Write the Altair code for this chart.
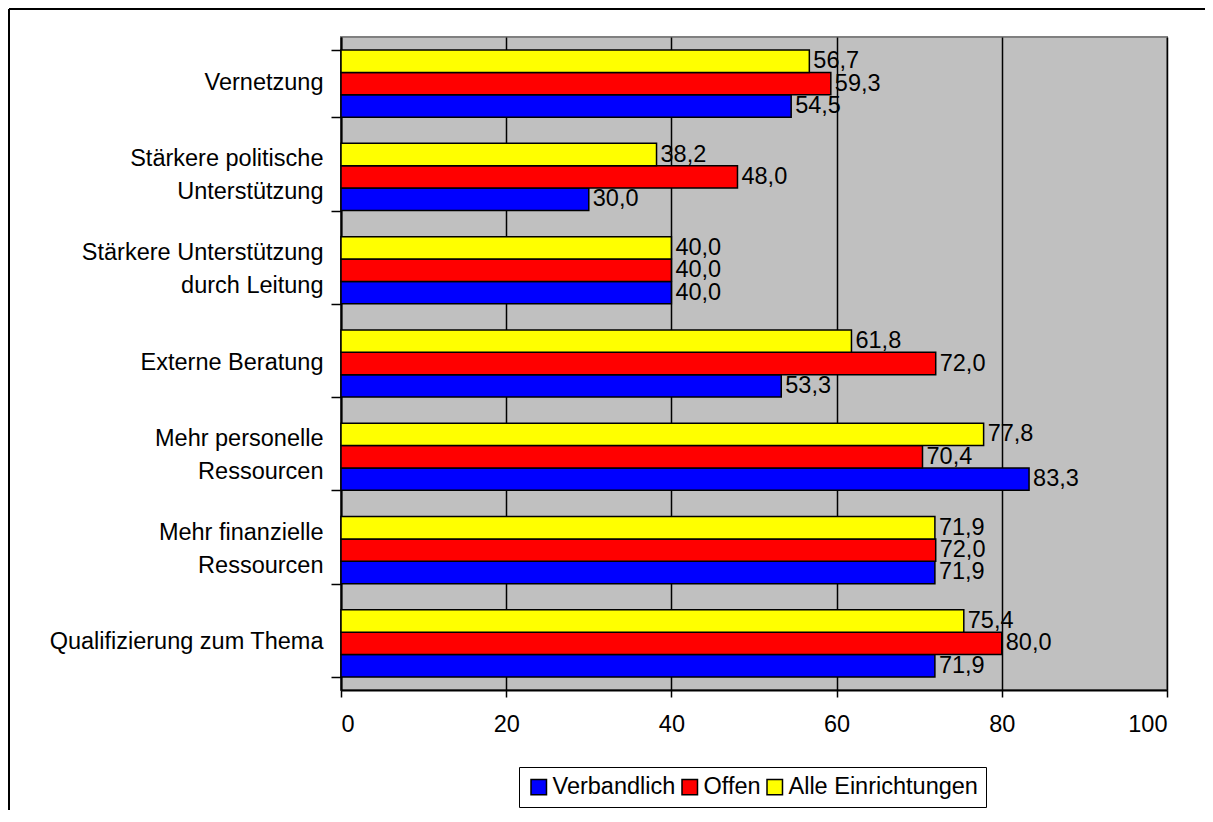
import altair as alt
import pandas as pd

categories = [
    "Vernetzung",
    "Stärkere politische\nUnterstützung",
    "Stärkere Unterstützung\ndurch Leitung",
    "Externe Beratung",
    "Mehr personelle\nRessourcen",
    "Mehr finanzielle\nRessourcen",
    "Qualifizierung zum Thema",
]
series_names = ["Verbandlich", "Offen", "Alle Einrichtungen"]
verbandlich = [54.5, 30.0, 40.0, 53.3, 83.3, 71.9, 71.9]
offen = [59.3, 48.0, 40.0, 72.0, 70.4, 72.0, 80.0]
alle = [56.7, 38.2, 40.0, 61.8, 77.8, 71.9, 75.4]
x_ticks = [0, 20, 40, 60, 80, 100]

rows = []
for name, vals in zip(series_names, [verbandlich, offen, alle]):
    for c, v in zip(categories, vals):
        rows.append({"cat": c, "series": name, "value": v})
df = pd.DataFrame(rows)

FONT = "Liberation Sans"
FS = 23.5

# Two-line labels are laid out as [line1, blank, line2], single-line ones as
# [blank, label], so that with a half line height every label block is centred.
# The blank line holds a zero-width space (not trimmed) so the browser keeps it.
BL = "\u200b"
label_expr = (
    "indexof(datum.label, '\\n') >= 0 ? "
    "[split(datum.label, '\\n')[0], '" + BL + "', split(datum.label, '\\n')[1]] : "
    "['" + BL + "', datum.label]"
)

y_enc = alt.Y(
    "cat:N",
    sort=categories,
    scale=alt.Scale(paddingInner=0.28, paddingOuter=0.14),
    axis=alt.Axis(
        title=None,
        tickBand="extent",
        tickSize=10,
        tickColor="black",
        tickWidth=1.5,
        domainColor="black",
        domainWidth=2,
        labelFont=FONT,
        labelFontSize=FS,
        labelColor="black",
        labelLineHeight=16.5,
        labelOffset=-18,
        labelLimit=0,
        labelAlign="right",
        labelPadding=8,
        labelExpr=label_expr,
        grid=False,
    ),
)
yoff = alt.YOffset("series:N", sort=["Alle Einrichtungen", "Offen", "Verbandlich"])

x_enc = alt.X(
    "value:Q",
    scale=alt.Scale(domain=[0, 100]),
    axis=alt.Axis(
        title=None,
        values=x_ticks,
        format="d",
        orient="bottom",
        tickSize=7,
        tickColor="black",
        tickWidth=1.5,
        domainColor="black",
        domainWidth=2,
        labelFont=FONT,
        labelFontSize=FS,
        labelColor="black",
        labelPadding=15,
        grid=True,
        gridColor="black",
        gridWidth=1.5,
    ),
)

bars = alt.Chart(df).mark_bar(stroke="black", strokeWidth=1.5).encode(
    y=y_enc,
    yOffset=yoff,
    x=x_enc,
    color=alt.Color(
        "series:N",
        scale=alt.Scale(domain=series_names, range=["#0000FF", "#FF0000", "#FFFF00"]),
        legend=alt.Legend(
            title=None,
            orient="none",
            legendX=178,
            legendY=730,
            direction="horizontal",
            symbolType="square",
            symbolSize=240,
            symbolStrokeColor="black",
            symbolStrokeWidth=1.5,
            symbolOpacity=1,
            labelFont=FONT,
            labelFontSize=FS,
            labelColor="black",
            labelLimit=0,
            labelOffset=2,
            columnPadding=2,
            padding=8,
            strokeColor="black",
            fillColor="white",
        ),
    ),
)

labels = alt.Chart(df).transform_calculate(
    label="replace(format(datum.value, '.1f'), '.', ',')"
).mark_text(align="left", baseline="middle", dx=4, font=FONT, fontSize=FS, color="black").encode(
    y=alt.Y("cat:N", sort=categories),
    yOffset=yoff,
    x=alt.X("value:Q"),
    text="label:N",
)

frame_df = pd.DataFrame({"d": [0]})
left_border = alt.Chart(frame_df).mark_rule(color="black", strokeWidth=2).encode(
    x=alt.value(-332), y=alt.value(-28), y2=alt.value(900)
)
top_border = alt.Chart(frame_df).mark_rule(color="black", strokeWidth=2).encode(
    x=alt.value(-332), x2=alt.value(1000), y=alt.value(-28)
)

chart = alt.layer(bars, labels, left_border, top_border).properties(
    width=826,
    height=653,
    autosize=alt.AutoSizeParams(type="none"),
    padding={"left": 333, "top": 29, "right": 38, "bottom": 120},
).configure(background="white", font=FONT).configure_view(
    fill="#C0C0C0", stroke="#808080", strokeWidth=2
)

chart.save("out.html", embed_options={"renderer": "svg", "actions": False})
